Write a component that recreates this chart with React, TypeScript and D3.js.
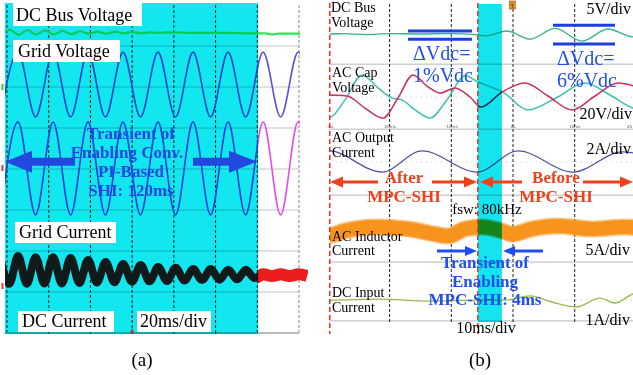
import React from 'react';
import * as d3 from 'd3';

type Pt = [number, number];

// ---------------- Panel (a): 20 ms/div, values in divisions ----------------
const timeGridA = [0, 20, 40, 60, 80, 100, 120, 140];
const divGridA = [-3, -2, -1, 0, 1, 2, 3];
const axisTicksA = [20, 40, 60, 80, 100];
const triggerA = 60;
const transientEndA = 120.4;

const dcBusVoltageA: Pt[] = [
  [-2, 3.3], [1.4, 3.4], [5.6, 3.27], [9.8, 3.39], [14.0, 3.28], [18.2, 3.38], [22.4, 3.28],
  [26.6, 3.37], [30.8, 3.29], [35.0, 3.36], [39.2, 3.3], [43.4, 3.35], [47.6, 3.3], [51.8, 3.35],
  [56.0, 3.31], [60.2, 3.34], [64.4, 3.31], [68.6, 3.33], [72.8, 3.32], [77.0, 3.33], [90.0, 3.32],
  [105.0, 3.32], [118.0, 3.31], [124.0, 3.31], [127.0, 3.28], [130.0, 3.3], [142.0, 3.3],
];

const gridVoltageA: Pt[] = [
  [-3.1, 1.27], [5.3, 2.85], [13.7, 1.27], [22.1, 2.85], [30.5, 1.27], [38.8, 2.85], [47.2, 1.27],
  [55.6, 2.85], [64.0, 1.27], [72.4, 2.85], [80.8, 1.27], [89.2, 2.85], [97.6, 1.27], [106.0, 2.85],
  [114.4, 1.27], [122.8, 2.85], [131.2, 1.27], [139.6, 2.85], [148.0, 1.27],
];

const gridCurrentA: Pt[] = [
  [-3.1, -1.12], [5.3, 1.15], [13.7, -1.12], [22.1, 1.15], [30.5, -1.12], [38.8, 1.15], [47.2, -1.12],
  [55.6, 1.15], [64.0, -1.12], [72.4, 1.15], [80.8, -1.12], [89.2, 1.15], [97.6, -1.12], [106.0, 1.15],
  [114.4, -1.12], [122.8, 1.15], [131.2, -1.12], [139.6, 1.15], [148.0, -1.12],
];

const dcCurrentA: Pt[] = [
  [-3.1, -2.2], [1.1, -2.8], [5.3, -2.12], [9.5, -2.8], [13.7, -2.15], [17.9, -2.79], [22.1, -2.15],
  [26.3, -2.79], [30.5, -2.17], [34.7, -2.78], [38.9, -2.22], [43.1, -2.77], [47.3, -2.27], [51.5, -2.76],
  [55.7, -2.32], [59.9, -2.75], [64.1, -2.34], [68.3, -2.74], [72.5, -2.39], [76.7, -2.73], [80.9, -2.41],
  [85.1, -2.72], [89.3, -2.44], [93.5, -2.71], [97.7, -2.44], [101.9, -2.7], [106.1, -2.46], [110.3, -2.69],
  [114.5, -2.46], [118.7, -2.66], [122.9, -2.57], [127.1, -2.61], [131.3, -2.57], [135.5, -2.61],
  [139.7, -2.57], [143.9, -2.61],
];

// ---------------- Panel (b): 10 ms/div ----------------
const timeGridB = [-20, -10, 0, 10];
const tickLabelsB: [number, string][] = [[-29.6, 'ms'], [-20, '-20ms'], [-10, '-10ms'], [0, '0s'], [10, '10ms'], [18.9, '20']];
const redMarkersB = [-29.7, -5.7];
const transientB: [number, number] = [-5.7, -1.8];
const separatorsB = [3.18, 1.18, -0.85, -2.91, -4.72];
const dottedB = [2.17, 0.17, -1.9, -4.08];
const triggerB = -0.1;

const dcBusVoltageB: Pt[] = [
  [-31, 4.11], [-29.66, 4.11], [-27.23, 4.12], [-24.0, 4.09], [-19.9, 4.12], [-15.1, 4.11], [-10.2, 4.12],
  [-5.67, 4.08], [-4.37, 4.05], [-0.97, 4.2], [2.76, 3.95], [6.81, 4.28], [11.18, 3.89], [15.4, 4.26],
  [19.45, 4.02], [20.5, 4.06],
];

const tealCapB: Pt[] = [
  [-31, 1.62], [-29.66, 1.55], [-27.23, 2.08], [-24.47, 2.85], [-21.88, 2.45], [-19.61, 2.14],
  [-17.99, 2.08], [-15.88, 1.77], [-13.45, 1.52], [-10.7, 2.08], [-7.78, 2.82], [-5.67, 2.63],
  [-1.62, 2.32], [2.43, 1.77], [6.97, 2.14], [11.67, 2.6], [15.72, 2.23], [19.45, 1.83], [20.5, 1.78],
];

const crimsonCapB: Pt[] = [
  [-31, 2.25], [-29.66, 2.23], [-26.9, 2.2], [-23.99, 1.83], [-21.07, 1.52], [-18.64, 2.14],
  [-16.21, 2.85], [-13.78, 2.48], [-11.83, 2.29], [-9.4, 2.45], [-6.97, 2.17], [-5.19, 1.86],
  [-1.78, 2.32], [1.94, 2.6], [5.67, 2.2], [9.56, 1.77], [13.29, 2.2], [17.02, 2.6], [20.5, 2.45],
];

const acOutputB: Pt[] = [
  [-31, 0.5], [-29.98, 0.52], [-21.23, -0.14], [-14.75, 0.51], [-5.83, -0.14], [0.81, 0.51],
  [9.72, -0.14], [17.67, 0.48], [21, 0.4],
];

const inductorB: Pt[] = [
  [-31, -2.08], [-29.66, -2.08], [-27.23, -1.95], [-22.37, -1.83], [-17.02, -1.89], [-12.64, -2.05],
  [-10.53, -2.11], [-7.78, -1.89], [-5.02, -1.83], [-1.78, -1.95], [-0.16, -2.05], [3.08, -1.89],
  [7.29, -1.8], [12.8, -1.89], [18.15, -1.83], [20.5, -1.86],
];

const dcInputB: Pt[] = [
  [-31, -4.08], [-29.66, -4.08], [-21.56, -4.05], [-13.45, -4.11], [-5.67, -4.08], [-1.3, -4.08],
  [2.76, -3.95], [6.32, -4.14], [10.21, -4.29], [14.1, -4.02], [16.53, -4.17], [19.45, -3.89], [20.5, -3.85],
];

const SERIF = '"Liberation Serif", "Times New Roman", serif';

function arrow(x1: number, y: number, x2: number, shaft: number, headLen: number, headW: number) {
  const dir = Math.sign(x2 - x1);
  const hb = x2 - dir * headLen;
  return `M${x1},${y - shaft / 2}L${hb},${y - shaft / 2}L${hb},${y - headW / 2}L${x2},${y}L${hb},${y + headW / 2}L${hb},${y + shaft / 2}L${x1},${y + shaft / 2}Z`;
}

export default function App() {
  const xA = d3.scaleLinear().domain([0, 140]).range([7, 299]);
  const yA = d3.scaleLinear().domain([-4, 4]).range([333, 5]);
  const xB = d3.scaleLinear().domain([-30, 20]).range([327.9, 636.4]);
  const yB = d3.scaleLinear().domain([-5, 5]).range([330, 5]);
  const lineA = d3.line<Pt>().x(d => xA(d[0])).y(d => yA(d[1])).curve(d3.curveMonotoneX);
  const lineB = d3.line<Pt>().x(d => xB(d[0])).y(d => yB(d[1])).curve(d3.curveMonotoneX);

  const cyanA = '#12e6ef';
  const blueTxt = '#2646e6';
  const redTxt = '#f0401c';
  const blueAnn = '#1f4ff0';

  const labelBox = (x: number, y: number, w: number, h: number, text: string, tx: number, ty: number) => (
    <g key={text}>
      <rect x={x} y={y} width={w} height={h} fill="#fff" />
      <text x={tx} y={ty} fontFamily={SERIF} fontSize={18} fill="#000">{text}</text>
    </g>
  );

  return (
    <svg width={633} height={375} style={{ position: 'absolute', left: 0, top: 0, background: '#fff' }}>
      <defs>
        <clipPath id="clipA"><rect x={5} y={3} width={295} height={330} /></clipPath>
        <clipPath id="clipAw"><rect x={xA(transientEndA)} y={3} width={50} height={330} /></clipPath>
        <clipPath id="clipB"><rect x={330} y={3} width={303} height={325} /></clipPath>
      </defs>
      <rect width={633} height={375} fill="#fff" />

      {/* ---------------- Panel (a) ---------------- */}
      {divGridA.map(v => (
        <line key={'ha' + v} x1={5} x2={299} y1={yA(v)} y2={yA(v)} stroke="#c4c4c4" strokeWidth={1} />
      ))}
      {timeGridA.map(t => (
        <line key={'va' + t} x1={xA(t)} x2={xA(t)} y1={5} y2={333}
          stroke={t === 140 ? '#888' : '#222'} strokeWidth={1} strokeDasharray="3,2" />
      ))}
      <g clipPath="url(#clipA)" fill="none">
        <path d={lineA(dcBusVoltageA) || ''} stroke="#34e25a" strokeWidth={2.2} />
        <path d={lineA(gridVoltageA) || ''} stroke="#5f52d8" strokeWidth={1.6} />
        <path d={lineA(gridCurrentA) || ''} stroke="#e64ce6" strokeWidth={1.6} />
        <path d={lineA(dcCurrentA) || ''} stroke="#ee1c1c" strokeWidth={8} strokeLinejoin="round" />
      </g>
      <g clipPath="url(#clipAw)" fill="none">
        <path d={lineA(dcCurrentA) || ''} stroke="#ee1c1c" strokeWidth={12} />
      </g>
      <line x1={5} x2={299} y1={333} y2={333} stroke="#bbb" strokeWidth={2} />
      {axisTicksA.map(t => (
        <line key={'ta' + t} x1={xA(t)} x2={xA(t)} y1={330} y2={334} stroke="#333" strokeWidth={1} />
      ))}
      <rect x={5} y={3} width={xA(transientEndA) - 5} height={331} fill={cyanA} style={{ mixBlendMode: 'multiply' }} />
      <path d={`M${xA(triggerA) - 2},333L${xA(triggerA) + 2},333L${xA(triggerA)},328Z`} fill="#e02020" />
      <rect x={1.5} y={84} width={2} height={6} fill="#3c3" />
      <rect x={1.5} y={165} width={2} height={6} fill="#e33" />
      <rect x={1.5} y={283} width={2} height={6} fill="#e33" />

      {labelBox(13, 3, 129, 23, 'DC Bus Voltage', 16, 21)}
      {labelBox(13, 40, 107, 22, 'Grid Voltage', 18, 57)}
      {labelBox(15, 222, 101, 21, 'Grid Current', 19, 238)}
      {labelBox(18, 311, 96, 21, 'DC Current', 22, 327)}
      {labelBox(137, 311, 74, 21, '20ms/div', 140, 327)}

      <g fill={blueTxt} fontFamily={SERIF} fontWeight="bold" fontSize={17} textAnchor="middle">
        <text x={131} y={139}>Transient of</text>
        <text x={127} y={158}>Enabling Conv.</text>
        <text x={131} y={177}>PI-Based</text>
        <text x={131} y={196}>SHI: 120ms</text>
      </g>
      <path d={arrow(75, 161.7, 5, 8, 27, 22)} fill="#2348e0" />
      <path d={arrow(193, 161.7, 257, 8, 28, 22)} fill="#2348e0" />

      <text x={142} y={366} fontFamily={SERIF} fontSize={19} textAnchor="middle" fill="#000">(a)</text>

      {/* ---------------- Panel (b) ---------------- */}
      {separatorsB.map(v => (
        <line key={'sb' + v} x1={329} x2={633} y1={yB(v)} y2={yB(v)} stroke="#b8b8b8" strokeWidth={1} />
      ))}
      {dottedB.map(v => (
        <line key={'db' + v} x1={331} x2={633} y1={yB(v)} y2={yB(v)} stroke="#cfcfcf" strokeWidth={1} strokeDasharray="1,4" />
      ))}
      {timeGridB.map(t => (
        <line key={'vb' + t} x1={xB(t)} x2={xB(t)} y1={4} y2={322} stroke="#222" strokeWidth={1} strokeDasharray="3,2" />
      ))}
      <g fontFamily="DejaVu Sans, sans-serif" fontSize={4} fill="#555" textAnchor="middle">
        {tickLabelsB.map(([t, s]) => (
          <text key={'tl' + s} x={xB(t)} y={yB(separatorsB[1]) - 1.5}>{s}</text>
        ))}
      </g>
      <g clipPath="url(#clipB)" fill="none">
        <path d={lineB(dcBusVoltageB) || ''} stroke="#34b48c" strokeWidth={1.4} />
        <path d={lineB(tealCapB) || ''} stroke="#3fc0b0" strokeWidth={1.5} />
        <path d={lineB(crimsonCapB) || ''} stroke="#c8325a" strokeWidth={1.5} />
        <path d={lineB(acOutputB) || ''} stroke="#5050a8" strokeWidth={1.3} />
        <path d={lineB(inductorB) || ''} stroke="#f7941d" strokeWidth={17} opacity={0.55} />
        <path d={lineB(inductorB) || ''} stroke="#f7941d" strokeWidth={14} />
        <path d={lineB(dcInputB) || ''} stroke="#9bbb4f" strokeWidth={1.4} />
      </g>
      <rect x={xB(transientB[0])} y={4} width={xB(transientB[1]) - xB(transientB[0])} height={318}
        fill="#14e4ee" style={{ mixBlendMode: 'multiply' }} />
      {redMarkersB.map(t => (
        <line key={'rb' + t} x1={xB(t)} x2={xB(t)} y1={3} y2={334} stroke="#e8321e" strokeWidth={1.5} strokeDasharray="5,3" />
      ))}
      <rect x={xB(triggerB) - 3} y={1} width={6} height={8} fill="#e8901c" stroke="#7a4a10" strokeWidth={0.5} />
      <text x={xB(triggerB)} y={7.5} fontFamily="DejaVu Sans, sans-serif" fontSize={5} textAnchor="middle" fill="#222">T</text>

      {/* blue ΔVdc bars */}
      <g stroke="#1d3fe0" strokeWidth={3}>
        <line x1={408} x2={472} y1={yB(4.2)} y2={yB(4.2)} />
        <line x1={408} x2={472} y1={yB(3.95)} y2={yB(3.95)} />
        <line x1={553} x2={615} y1={yB(4.38)} y2={yB(4.38)} />
        <line x1={553} x2={615} y1={yB(3.8)} y2={yB(3.8)} />
      </g>
      <g fill={blueAnn} fontFamily={SERIF} fontSize={20}>
        <text x={413} y={60}>ΔVdc=</text>
        <text x={413} y={82}>1%Vdc</text>
        <text x={557} y={65}>ΔVdc=</text>
        <text x={557} y={87}>6%Vdc</text>
      </g>

      <g fontFamily={SERIF} fontSize={14} fill="#000">
        <text x={331} y={12}>DC Bus</text>
        <text x={331} y={27}>Voltage</text>
        <text x={332} y={77}>AC Cap</text>
        <text x={332} y={92}>Voltage</text>
        <text x={332} y={142}>AC Output</text>
        <text x={332} y={157}>Current</text>
        <text x={332} y={241}>AC Inductor</text>
        <text x={332} y={255}>Current</text>
        <text x={332} y={297}>DC Input</text>
        <text x={332} y={312}>Current</text>
      </g>
      <g fontFamily={SERIF} fontSize={16} fill="#000" textAnchor="end">
        <text x={631} y={14}>5V/div</text>
        <text x={632} y={119}>20V/div</text>
        <text x={631} y={154}>2A/div</text>
        <text x={630} y={255}>5A/div</text>
        <text x={630} y={325}>1A/div</text>
      </g>
      <text x={487} y={214} fontFamily={SERIF} fontSize={15} textAnchor="middle" fill="#000">fsw: 80kHz</text>
      <text x={486} y={333} fontFamily={SERIF} fontSize={16} textAnchor="middle" fill="#000">10ms/div</text>

      <g fill={redTxt}>
        <path d={arrow(378, 182, 330, 3, 13, 11)} />
        <path d={arrow(432, 182, 477, 3, 13, 11)} />
        <path d={arrow(522, 182, 480, 3, 13, 11)} />
        <path d={arrow(583, 182, 633, 3, 13, 11)} />
      </g>
      <g fill={redTxt} fontFamily={SERIF} fontWeight="bold" fontSize={17} textAnchor="middle">
        <text x={404} y={183}>After</text>
        <text x={404} y={202}>MPC-SHI</text>
        <text x={556} y={183}>Before</text>
        <text x={556} y={202}>MPC-SHI</text>
      </g>

      <g fill={blueAnn}>
        <path d={arrow(437, 251, 477, 3, 12, 10)} />
        <path d={arrow(543, 251, 503, 3, 12, 10)} />
      </g>
      <g fill={blueAnn} fontFamily={SERIF} fontWeight="bold" fontSize={17} textAnchor="middle">
        <text x={485} y={268}>Transient of</text>
        <text x={485} y={287}>Enabling</text>
        <text x={485} y={305}>MPC-SHI: 4ms</text>
      </g>

      <text x={480} y={366} fontFamily={SERIF} fontSize={19} textAnchor="middle" fill="#000">(b)</text>
    </svg>
  );
}
